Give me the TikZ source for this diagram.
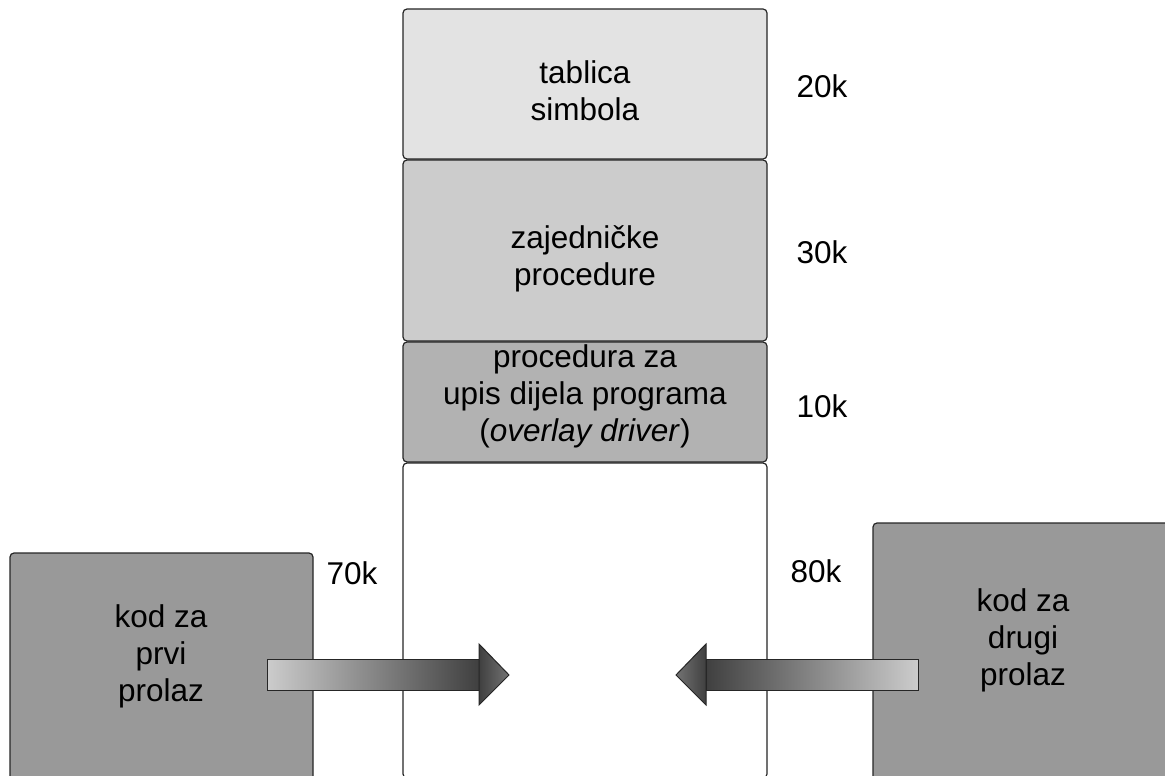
\documentclass[tikz,border=0pt]{standalone}
\usepackage{fontspec}
\setmainfont{Liberation Sans}
\begin{document}
\begin{tikzpicture}[x=1pt,y=-1pt,
  blk/.style={draw=black!85,line width=1.2pt,rounded corners=4pt},
  txt/.style={font=\fontsize{31.5}{37}\selectfont,align=center,inner sep=0pt},
  shaft/.style={draw=black!85,line width=1pt,left color=black!20,right color=black!75},
  shaftr/.style={draw=black!85,line width=1pt,left color=black!75,right color=black!20},
  headr/.style={draw=black!85,line width=1pt,left color=black!75,right color=black!55},
  headl/.style={draw=black!85,line width=1pt,left color=black!55,right color=black!75}]
\useasboundingbox (0,0) rectangle (1165,776);
\begin{scope}
\clip (0,0) rectangle (1165,776);
% central column
\draw[blk,fill=black!11] (403,9) rectangle (767,159);
\draw[blk,fill=black!20] (403,160) rectangle (767,341);
\draw[blk,fill=black!30] (403,342) rectangle (767,462);
\draw[blk,fill=white] (403,463) rectangle (767,778);
% side boxes
\draw[blk,fill=black!40] (10,553) rectangle (313,800);
\draw[blk,fill=black!40] (873,523) rectangle (1190,800);
% arrows
\coordinate (la) at (267,659);
\coordinate (lb) at (479,690);
\draw[shaft] (la) rectangle (lb);
\draw[headr] (479,644) -- (509,675) -- (479,705) -- cycle;
\draw[white,line width=0.8pt] (481,707) -- (511,677);
\coordinate (ra) at (706,659);
\coordinate (rb) at (918,690);
\draw[shaftr] (ra) rectangle (rb);
\draw[headl] (706,644) -- (676,675) -- (706,705) -- cycle;
\end{scope}
% texts
\node[txt] (t1) at (585,91) {tablica\\simbola};
\node[txt] (t2) at (585,259) {zajedničke\\procedure};
\node[txt] (t3) at (585,396) {procedura za\\upis dijela programa\\(\textit{overlay driver})};
\node[txt] (t4) at (161,656) {kod za\\prvi\\prolaz};
\node[txt] (t5) at (1023,640) {kod za\\drugi\\prolaz};
\node[txt] (k20) at (822,86) {20k};
\node[txt] (k30) at (822,252) {30k};
\node[txt] (k10) at (822,406) {10k};
\node[txt] (k70) at (352,573) {70k};
\node[txt] (k80) at (816,571) {80k};
\end{tikzpicture}
\end{document}
